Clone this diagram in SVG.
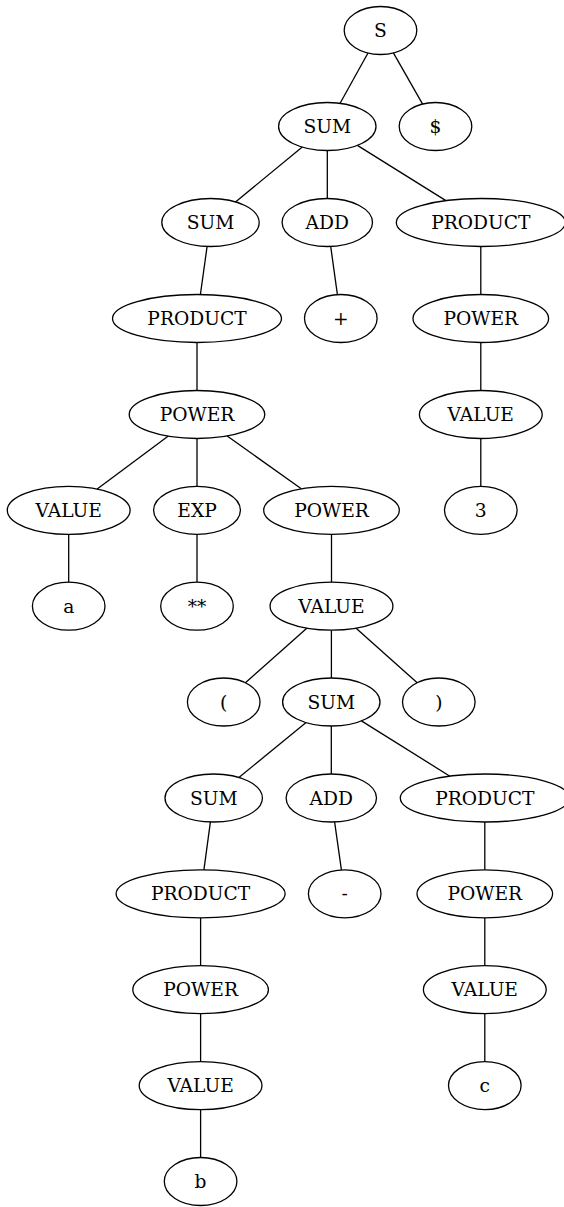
<svg xmlns="http://www.w3.org/2000/svg" width="564" height="1207" viewBox="0 0 564 1207">
<style>
.n ellipse{fill:none;stroke:#000;stroke-width:1.3}
.n text{font-family:"DejaVu Serif",serif;font-size:18.67px;text-anchor:middle;fill:#000}
#edges line{stroke:#000;stroke-width:1.3}
</style>
<rect width="564" height="1207" fill="#fff"/>
<g id="edges">
<line x1="368" y1="53" x2="340.1" y2="103.3"/>
<line x1="393.4" y1="52.9" x2="422.6" y2="104.1"/>
<line x1="302.3" y1="147.1" x2="235.5" y2="201.9"/>
<line x1="327.3" y1="150.5" x2="327.3" y2="198.5"/>
<line x1="357.4" y1="145.4" x2="445.9" y2="200.6"/>
<line x1="207.1" y1="246.4" x2="200.4" y2="294.5"/>
<line x1="330.7" y1="246.4" x2="337.4" y2="294.6"/>
<line x1="480.8" y1="246.5" x2="480.8" y2="294.5"/>
<line x1="197" y1="342.5" x2="197" y2="390.5"/>
<line x1="480.8" y1="342.5" x2="480.8" y2="390.5"/>
<line x1="168" y1="436.2" x2="97.2" y2="489"/>
<line x1="197" y1="438.5" x2="197" y2="486.3"/>
<line x1="227.2" y1="436" x2="301.3" y2="488.8"/>
<line x1="480.8" y1="438.5" x2="480.8" y2="486.3"/>
<line x1="68.7" y1="534.3" x2="68.7" y2="582.2"/>
<line x1="197" y1="534.3" x2="197" y2="582.2"/>
<line x1="331.5" y1="534.3" x2="331.5" y2="582.2"/>
<line x1="306.8" y1="628.2" x2="245.4" y2="682.7"/>
<line x1="331.4" y1="630.2" x2="331.4" y2="678"/>
<line x1="356.1" y1="628.2" x2="417.2" y2="682.7"/>
<line x1="306.1" y1="722.5" x2="238.9" y2="777.5"/>
<line x1="331.3" y1="726" x2="331.3" y2="774"/>
<line x1="361.4" y1="720.9" x2="449.9" y2="776.2"/>
<line x1="210.4" y1="821.9" x2="203.9" y2="869.8"/>
<line x1="334.6" y1="821.9" x2="341.4" y2="869.9"/>
<line x1="484.8" y1="822" x2="484.8" y2="869.8"/>
<line x1="200.6" y1="917.8" x2="200.6" y2="965.7"/>
<line x1="484.8" y1="917.8" x2="484.8" y2="965.7"/>
<line x1="200.6" y1="1013.7" x2="200.6" y2="1061.6"/>
<line x1="484.8" y1="1013.7" x2="484.8" y2="1061.6"/>
<line x1="200.6" y1="1109.6" x2="200.6" y2="1157.5"/>
</g>
<g id="S" class="n"><ellipse cx="380.5" cy="30.5" rx="36.3" ry="24"/><text x="380.5" y="37">S</text></g>
<g id="SUM1" class="n"><ellipse cx="327.3" cy="126.5" rx="48.7" ry="24"/><text x="327.3" y="133">SUM</text></g>
<g id="DOLLAR" class="n"><ellipse cx="435.5" cy="126.5" rx="36.3" ry="24"/><text x="435.5" y="133">$</text></g>
<g id="SUM2" class="n"><ellipse cx="210.5" cy="222.5" rx="48.7" ry="24"/><text x="210.5" y="229">SUM</text></g>
<g id="ADD1" class="n"><ellipse cx="327.3" cy="222.5" rx="45.2" ry="24"/><text x="327.3" y="229">ADD</text></g>
<g id="PRODUCT1" class="n"><ellipse cx="480.8" cy="222.5" rx="84.5" ry="24"/><text x="480.8" y="229">PRODUCT</text></g>
<g id="PRODUCT2" class="n"><ellipse cx="197" cy="318.5" rx="84.5" ry="24"/><text x="197" y="325">PRODUCT</text></g>
<g id="PLUS" class="n"><ellipse cx="340.8" cy="318.5" rx="36.3" ry="24"/><text x="340.8" y="325">+</text></g>
<g id="POWER1" class="n"><ellipse cx="480.8" cy="318.5" rx="67.8" ry="24"/><text x="480.8" y="325">POWER</text></g>
<g id="POWER2" class="n"><ellipse cx="197" cy="414.5" rx="67.8" ry="24"/><text x="197" y="421">POWER</text></g>
<g id="VALUE1" class="n"><ellipse cx="480.8" cy="414.5" rx="61.4" ry="24"/><text x="480.8" y="421">VALUE</text></g>
<g id="VALUEa" class="n"><ellipse cx="68.7" cy="510.3" rx="61.4" ry="24"/><text x="68.7" y="516.8">VALUE</text></g>
<g id="EXP" class="n"><ellipse cx="197" cy="510.3" rx="43.4" ry="24"/><text x="197" y="516.8">EXP</text></g>
<g id="POWER3" class="n"><ellipse cx="331.5" cy="510.3" rx="67.8" ry="24"/><text x="331.5" y="516.8">POWER</text></g>
<g id="THREE" class="n"><ellipse cx="480.8" cy="510.3" rx="36.3" ry="24"/><text x="480.8" y="516.8">3</text></g>
<g id="A" class="n"><ellipse cx="68.7" cy="606.2" rx="36.3" ry="24"/><text x="68.7" y="612.7">a</text></g>
<g id="STARS" class="n"><ellipse cx="197" cy="606.2" rx="36.3" ry="24"/><text x="197" y="612.7">**</text></g>
<g id="VALUE2" class="n"><ellipse cx="331.5" cy="606.2" rx="61.4" ry="24"/><text x="331.5" y="612.7">VALUE</text></g>
<g id="LPAREN" class="n"><ellipse cx="223.7" cy="702" rx="36.3" ry="24"/><text x="223.7" y="708.5">(</text></g>
<g id="SUM3" class="n"><ellipse cx="331.3" cy="702" rx="48.7" ry="24"/><text x="331.3" y="708.5">SUM</text></g>
<g id="RPAREN" class="n"><ellipse cx="438.8" cy="702" rx="36.3" ry="24"/><text x="438.8" y="708.5">)</text></g>
<g id="SUM4" class="n"><ellipse cx="213.7" cy="798" rx="48.7" ry="24"/><text x="213.7" y="804.5">SUM</text></g>
<g id="ADD2" class="n"><ellipse cx="331.3" cy="798" rx="45.2" ry="24"/><text x="331.3" y="804.5">ADD</text></g>
<g id="PRODUCT3" class="n"><ellipse cx="484.8" cy="798" rx="84.5" ry="24"/><text x="484.8" y="804.5">PRODUCT</text></g>
<g id="PRODUCT4" class="n"><ellipse cx="200.6" cy="893.8" rx="84.5" ry="24"/><text x="200.6" y="900.3">PRODUCT</text></g>
<g id="MINUS" class="n"><ellipse cx="344.7" cy="893.8" rx="36.3" ry="24"/><text x="344.7" y="900.3">-</text></g>
<g id="POWER4" class="n"><ellipse cx="484.8" cy="893.8" rx="67.8" ry="24"/><text x="484.8" y="900.3">POWER</text></g>
<g id="POWER5" class="n"><ellipse cx="200.6" cy="989.7" rx="67.8" ry="24"/><text x="200.6" y="996.2">POWER</text></g>
<g id="VALUE3" class="n"><ellipse cx="484.8" cy="989.7" rx="61.4" ry="24"/><text x="484.8" y="996.2">VALUE</text></g>
<g id="VALUE4" class="n"><ellipse cx="200.6" cy="1085.6" rx="61.4" ry="24"/><text x="200.6" y="1092.1">VALUE</text></g>
<g id="C" class="n"><ellipse cx="484.8" cy="1085.6" rx="36.3" ry="24"/><text x="484.8" y="1092.1">c</text></g>
<g id="B" class="n"><ellipse cx="200.6" cy="1181.5" rx="36.3" ry="24"/><text x="200.6" y="1188">b</text></g>
</svg>
